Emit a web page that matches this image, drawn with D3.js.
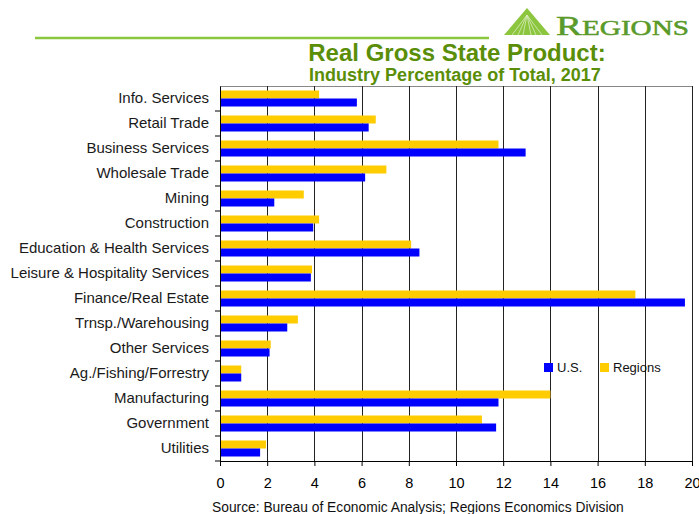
<!DOCTYPE html>
<html>
<head>
<meta charset="utf-8">
<script src="https://cdn.jsdelivr.net/npm/d3@7"></script>
<style>
  body { margin: 0; background: #fff; }
  svg { display: block; font-family: "Liberation Sans", Arial, sans-serif; }
  .axis path, .axis line { stroke: #000; }
</style>
</head>
<body>
<svg id="chart" width="699" height="514"></svg>
<script>
const categories = ["Info. Services", "Retail Trade", "Business Services", "Wholesale Trade", "Mining",
  "Construction", "Education & Health Services", "Leisure & Hospitality Services", "Finance/Real Estate",
  "Trnsp./Warehousing", "Other Services", "Ag./Fishing/Forrestry", "Manufacturing", "Government", "Utilities"];
const usValues = [5.8, 6.3, 12.95, 6.15, 2.3, 3.95, 8.45, 3.85, 19.7, 2.85, 2.1, 0.9, 11.8, 11.7, 1.7];
const regionsValues = [4.2, 6.6, 11.8, 7.05, 3.55, 4.2, 8.1, 3.9, 17.6, 3.3, 2.15, 0.9, 14.0, 11.1, 1.95];
const seriesNames = ["Regions", "U.S."];
const xTicks = [0, 2, 4, 6, 8, 10, 12, 14, 16, 18, 20];

const colors = { "U.S.": "#0000ff", "Regions": "#ffcc00" };
const green = "#5a8e08";

const svg = d3.select("#chart");
const margin = { top: 86, right: 7, bottom: 53, left: 220 };
const width = 699 - margin.left - margin.right;
const height = 514 - margin.top - margin.bottom;

// header
svg.append("line")
    .attr("x1", 35).attr("x2", 489)
    .attr("y1", 38).attr("y2", 38)
    .attr("stroke", "#8cc63f").attr("stroke-width", 2.5);

// logo triangle
const logo = svg.append("g").attr("transform", "translate(504,8)");
logo.append("path")
    .attr("d", "M23,0 L46,27 L0,27 Z")
    .attr("fill", "#8cc63f");
[-15, -9, -4, 4, 9, 15].forEach(dx => {
    logo.append("line")
        .attr("x1", 23).attr("y1", 7)
        .attr("x2", 23 + dx).attr("y2", 27)
        .attr("stroke", "#d9ecbd").attr("stroke-width", 0.8);
});
const logoText = svg.append("text")
    .attr("x", 556).attr("y", 35)
    .attr("fill", "#5a9a2a")
    .attr("textLength", 133)
    .attr("lengthAdjust", "spacingAndGlyphs")
    .style("font-family", "'Liberation Serif', 'Times New Roman', serif")
    .style("stroke", "#5a9a2a").style("stroke-width", "0.5px");
logoText.append("tspan").style("font-size", "28px").text("R");
logoText.append("tspan").style("font-size", "21px").text("EGIONS");

svg.append("text")
    .attr("x", 457).attr("y", 61)
    .attr("text-anchor", "middle")
    .attr("fill", green)
    .style("font-size", "24px").style("font-weight", "bold")
    .text("Real Gross State Product:");

svg.append("text")
    .attr("x", 455).attr("y", 81)
    .attr("text-anchor", "middle")
    .attr("fill", green)
    .style("font-size", "18px").style("font-weight", "bold")
    .text("Industry Percentage of Total, 2017");

const g = svg.append("g").attr("transform", `translate(${margin.left},${margin.top})`);

const x = d3.scaleLinear().domain([0, 20]).range([0, width]);
const y0 = d3.scaleBand().domain(categories).range([0, height]).paddingInner(0.36).paddingOuter(0.18);
const y1 = d3.scaleBand().domain(seriesNames).range([0, y0.bandwidth()]);

// top border
g.append("line")
    .attr("x1", 0).attr("x2", width)
    .attr("y1", 0.5).attr("y2", 0.5)
    .attr("stroke", "#888");

// vertical gridlines
g.selectAll(".grid")
    .data(xTicks.slice(1))
    .enter().append("line")
    .attr("class", "grid")
    .attr("x1", d => Math.round(x(d)) + 0.5).attr("x2", d => Math.round(x(d)) + 0.5)
    .attr("y1", 0).attr("y2", height)
    .attr("stroke", "#222");

// bars
const rows = categories.map((c, i) => ({ cat: c, "U.S.": usValues[i], "Regions": regionsValues[i] }));
g.selectAll(".row")
    .data(rows)
    .enter().append("g")
    .attr("class", "row")
    .attr("transform", d => `translate(0,${y0(d.cat)})`)
    .selectAll("rect")
    .data(d => seriesNames.map(s => ({ s: s, v: d[s] })))
    .enter().append("rect")
    .attr("x", 0)
    .attr("y", d => y1(d.s))
    .attr("width", d => x(d.v))
    .attr("height", y1.bandwidth())
    .attr("fill", d => colors[d.s]);

// x axis
g.append("g")
    .attr("class", "axis")
    .attr("transform", `translate(0,${height})`)
    .call(d3.axisBottom(x).tickValues(xTicks).tickSize(5).tickPadding(12).tickSizeOuter(0))
    .call(a => a.selectAll("text").style("font-size", "14.5px").attr("fill", "#000"));

// y axis labels
const yAxis = g.append("g")
    .attr("class", "axis")
    .call(d3.axisLeft(y0).tickSize(0).tickPadding(11));
yAxis.selectAll("text").style("font-size", "15px").attr("fill", "#1a1a1a");

// y ticks at category boundaries
const step = y0.step();
g.selectAll(".ytick")
    .data(categories)
    .enter().append("line")
    .attr("class", "ytick")
    .attr("x1", -5).attr("x2", 0)
    .attr("y1", d => y0(d) + y0.bandwidth() + (step - y0.bandwidth()) / 2)
    .attr("y2", d => y0(d) + y0.bandwidth() + (step - y0.bandwidth()) / 2)
    .attr("stroke", "#000");

// legend
const legend = svg.append("g").attr("transform", "translate(544,363)");
const legendItems = ["U.S.", "Regions"];
legendItems.forEach((s, i) => {
    const lg = legend.append("g").attr("transform", `translate(${i * 56},0)`);
    lg.append("rect").attr("width", 9).attr("height", 9).attr("fill", colors[s]);
    lg.append("text")
        .attr("x", 13).attr("y", 9)
        .style("font-size", "13px")
        .attr("fill", "#111")
        .text(s);
});

// source
svg.append("text")
    .attr("x", 212).attr("y", 512)
    .style("font-size", "13.8px")
    .attr("fill", "#111")
    .text("Source: Bureau of Economic Analysis; Regions Economics Division");
</script>
</body>
</html>
